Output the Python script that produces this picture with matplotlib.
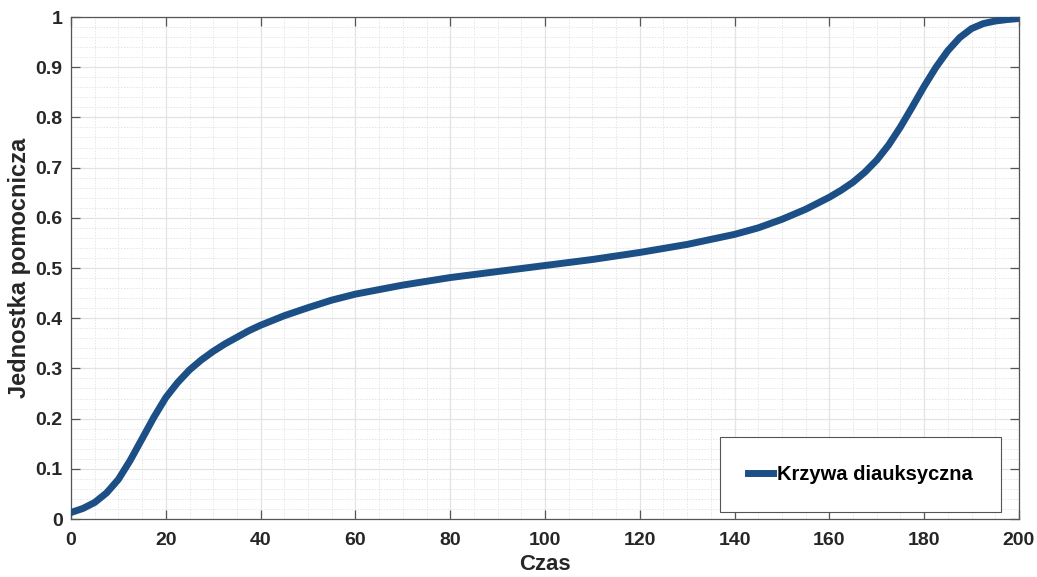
import matplotlib.pyplot as plt
from matplotlib.ticker import MultipleLocator, FixedLocator, FixedFormatter

# values
czas = [0, 2.5, 5, 7.5, 10, 12.5, 15, 17.5, 20, 22.5, 25, 27.5, 30, 32.5, 35, 37.5,
        40, 45, 50, 55, 60, 70, 80, 90, 100, 110, 120, 130, 140, 145, 150, 155,
        160, 162.5, 165, 167.5, 170, 172.5, 175, 177.5, 180, 182.5, 185, 187.5,
        190, 192.5, 195, 197.5, 200]
krzywa = [0.013, 0.021, 0.033, 0.052, 0.079, 0.117, 0.160, 0.203, 0.242, 0.272,
          0.297, 0.317, 0.334, 0.349, 0.362, 0.375, 0.386, 0.405, 0.421, 0.436,
          0.448, 0.466, 0.481, 0.493, 0.505, 0.517, 0.531, 0.547, 0.567, 0.580,
          0.597, 0.617, 0.641, 0.655, 0.671, 0.691, 0.715, 0.745, 0.781, 0.821,
          0.862, 0.900, 0.933, 0.959, 0.977, 0.987, 0.992, 0.995, 0.997]
y_ticks = [0, 0.1, 0.2, 0.3, 0.4, 0.5, 0.6, 0.7, 0.8, 0.9, 1]
y_labels = ['0', '0.1', '0.2', '0.3', '0.4', '0.5', '0.6', '0.7', '0.8', '0.9', '1']

plt.rcParams['font.family'] = ['Liberation Sans', 'DejaVu Sans']
plt.rcParams['font.weight'] = 'bold'

fig = plt.figure(figsize=(10.37, 5.77), dpi=100)
ax = fig.add_axes([0.0685, 0.1005, 0.9141, 0.870])

ax.plot(czas, krzywa, color='#1b4f85', linewidth=5, solid_joinstyle='round',
        label='Krzywa diauksyczna', zorder=3)

ax.set_xlim(0, 200)
ax.set_ylim(0, 1)
ax.xaxis.set_major_locator(MultipleLocator(20))
ax.xaxis.set_minor_locator(MultipleLocator(5))
ax.yaxis.set_major_locator(FixedLocator(y_ticks))
ax.yaxis.set_major_formatter(FixedFormatter(y_labels))
ax.yaxis.set_minor_locator(MultipleLocator(0.02))

ax.grid(which='major', color='#e3e3e3', linewidth=0.9, linestyle='-')
ax.grid(which='minor', color='#e6e6e6', linewidth=0.7, linestyle=(0, (1.5, 1.5)))
ax.set_axisbelow(True)

ax.tick_params(which='major', direction='in', length=6.5, width=0.9, color='#555555',
               top=True, right=True, labelsize=14, labelcolor='#262626')
ax.tick_params(axis='x', which='major', pad=9)
ax.tick_params(axis='y', which='major', pad=6)
ax.tick_params(which='minor', length=0, top=True, right=True)
for s in ax.spines.values():
    s.set_color('#555555')
    s.set_linewidth(0.9)

ax.set_xlabel('Czas', fontsize=16, fontweight='bold', color='#262626', labelpad=4)
ax.set_ylabel('Jednostka pomocnicza', fontsize=17, fontweight='bold', color='#262626', labelpad=3)

leg = ax.legend(loc='lower right', bbox_to_anchor=(0.981, 0.014), borderaxespad=0,
                fancybox=False, framealpha=1, edgecolor='#555555',
                prop={'size': 14.5, 'weight': 'bold'}, handlelength=1.25,
                handletextpad=0.2, borderpad=1.4)
leg.get_frame().set_linewidth(0.8)
leg.legend_handles[0].set_linewidth(5)
plt.setp(leg.get_texts(), color='black')

fig.savefig('out.png', dpi=100)
